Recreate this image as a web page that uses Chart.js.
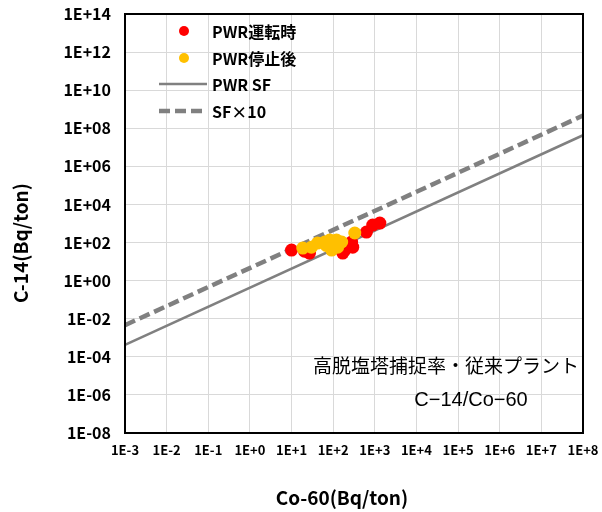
<!DOCTYPE html>
<html lang="ja">
<head>
<meta charset="UTF-8">
<title>C-14 / Co-60</title>
<script src="https://cdn.jsdelivr.net/npm/chart.js@4.4.1/dist/chart.umd.min.js"></script>
<style>
  html, body { margin: 0; padding: 0; background: #fff; }
  #wrap { width: 602px; height: 512px; }
</style>
</head>
<body>
<div id="wrap"><canvas id="myChart" width="602" height="512"></canvas></div>

<script>
// --- data ---
var xTickValues = [1e-3, 1e-2, 1e-1, 1e0, 1e1, 1e2, 1e3, 1e4, 1e5, 1e6, 1e7, 1e8];
var xTickLabels = ['1E-3', '1E-2', '1E-1', '1E+0', '1E+1', '1E+2', '1E+3', '1E+4', '1E+5', '1E+6', '1E+7', '1E+8'];
var yTickValues = [1e-8, 1e-6, 1e-4, 1e-2, 1e0, 1e2, 1e4, 1e6, 1e8, 1e10, 1e12, 1e14];
var yTickLabels = ['1E-08', '1E-06', '1E-04', '1E-02', '1E+00', '1E+02', '1E+04', '1E+06', '1E+08', '1E+10', '1E+12', '1E+14'];

// PWR運転時
var runX = [10, 20.5, 27, 170, 190, 277, 295, 630, 890, 1320];
var runY = [40, 35, 28, 28, 40, 107, 57, 355, 830, 1050];

// PWR停止後
var stopX = [18.6, 30, 42, 63, 68, 83, 92, 92, 120, 128, 160, 330];
var stopY = [51, 57, 94, 107, 70, 135, 94, 40, 135, 57, 107, 316];

// scaling factor lines
var sfX = [1e-3, 1e8];
var sfY = [4.3e-4, 4.3e7];
var sf10Y = [4.6e-3, 4.6e8];

var seriesNames = ['PWR運転時', 'PWR停止後', 'PWR SF', 'SF×10'];

function pairs(xs, ys) {
    return xs.map(function (x, i) { return { x: x, y: ys[i] }; });
}

var tickFont = "'Noto Sans CJK JP', 'DejaVu Sans', sans-serif";

// legend, frame and the text notes
var extras = {
    id: 'extras',
    afterDatasetsDraw: function (chart) {
        var ctx = chart.ctx;
        var a = chart.chartArea;
        ctx.save();

        // frame
        ctx.strokeStyle = '#000';
        ctx.lineWidth = 2;
        ctx.strokeRect(a.left, a.top, a.right - a.left, a.bottom - a.top);

        // legend
        var rows = [31, 58, 84, 111];
        ctx.font = "bold 16px " + tickFont;
        ctx.textBaseline = 'middle';
        ctx.textAlign = 'left';
        chart.data.datasets.forEach(function (ds, i) {
            var y = rows[i];
            if (ds.type === 'line') {
                ctx.beginPath();
                ctx.strokeStyle = ds.borderColor;
                ctx.lineWidth = ds.borderWidth;
                ctx.setLineDash(ds.borderDash || []);
                ctx.moveTo(159, y);
                ctx.lineTo(207, y);
                ctx.stroke();
                ctx.setLineDash([]);
            } else {
                ctx.beginPath();
                ctx.fillStyle = ds.backgroundColor;
                ctx.arc(184, y, 5, 0, Math.PI * 2);
                ctx.fill();
            }
            ctx.fillStyle = '#000';
            ctx.fillText(ds.label, 212, y + 1);
        });

        // note in lower right
        ctx.font = "19px " + tickFont;
        ctx.textAlign = 'right';
        ctx.fillText('高脱塩塔捕捉率・従来プラント', 579, 366);
        ctx.textAlign = 'center';
        ctx.font = "20px 'Liberation Sans', 'Noto Sans CJK JP', sans-serif";
        ctx.fillText('C−14/Co−60', 471, 400);

        // axis titles
        ctx.font = "bold 19px " + tickFont;
        ctx.fillText('Co-60(Bq/ton)', 342, 498);
        ctx.translate(21, 243);
        ctx.rotate(-Math.PI / 2);
        ctx.fillText('C-14(Bq/ton)', 0, 0);

        ctx.restore();
    }
};

var ctx = document.getElementById('myChart').getContext('2d');
var myChart = new Chart(ctx, {
    data: {
        datasets: [
            {
                type: 'scatter',
                label: seriesNames[0],
                data: pairs(runX, runY),
                backgroundColor: '#ff0000',
                borderColor: '#ff0000',
                pointRadius: 6.5,
                borderWidth: 0,
                order: 2
            },
            {
                type: 'scatter',
                label: seriesNames[1],
                data: pairs(stopX, stopY),
                backgroundColor: '#ffc000',
                borderColor: '#ffc000',
                pointRadius: 6.5,
                borderWidth: 0,
                order: 1
            },
            {
                type: 'line',
                label: seriesNames[2],
                data: pairs(sfX, sfY),
                borderColor: '#808080',
                borderWidth: 2.5,
                pointRadius: 0,
                fill: false,
                order: 4
            },
            {
                type: 'line',
                label: seriesNames[3],
                data: pairs(sfX, sf10Y),
                borderColor: '#808080',
                borderWidth: 4.5,
                borderDash: [11, 5],
                pointRadius: 0,
                fill: false,
                order: 3
            }
        ]
    },
    options: {
        responsive: false,
        animation: false,
        layout: { padding: { top: 14, right: 19, left: 0, bottom: 0 } },
        plugins: {
            legend: { display: false },
            tooltip: { enabled: false }
        },
        scales: {
            x: {
                type: 'logarithmic',
                min: 1e-3,
                max: 1e8,
                afterBuildTicks: function (scale) {
                    scale.ticks = xTickValues.map(function (v) { return { value: v }; });
                },
                afterFit: function (scale) {
                    scale.height = 79;
                    scale.paddingLeft = 0;
                    scale.paddingRight = 0;
                },
                ticks: {
                    autoSkip: false,
                    maxRotation: 0,
                    padding: 9,
                    color: '#000',
                    font: { family: tickFont, size: 13, weight: 'bold' },
                    callback: function (v, i) { return xTickLabels[i]; }
                },
                grid: { color: '#d9d9d9', lineWidth: 1, drawTicks: false },
                border: { display: false }
            },
            y: {
                type: 'logarithmic',
                min: 1e-8,
                max: 1e14,
                afterBuildTicks: function (scale) {
                    scale.ticks = yTickValues.map(function (v) { return { value: v }; });
                },
                afterFit: function (scale) {
                    scale.width = 125;
                    scale.paddingTop = 0;
                    scale.paddingBottom = 0;
                },
                ticks: {
                    autoSkip: false,
                    padding: 14,
                    color: '#000',
                    font: { family: tickFont, size: 16, weight: 'bold' },
                    callback: function (v, i) { return yTickLabels[i]; }
                },
                grid: { color: '#d9d9d9', lineWidth: 1, drawTicks: false },
                border: { display: false }
            }
        }
    },
    plugins: [extras]
});
</script>
</body>
</html>
